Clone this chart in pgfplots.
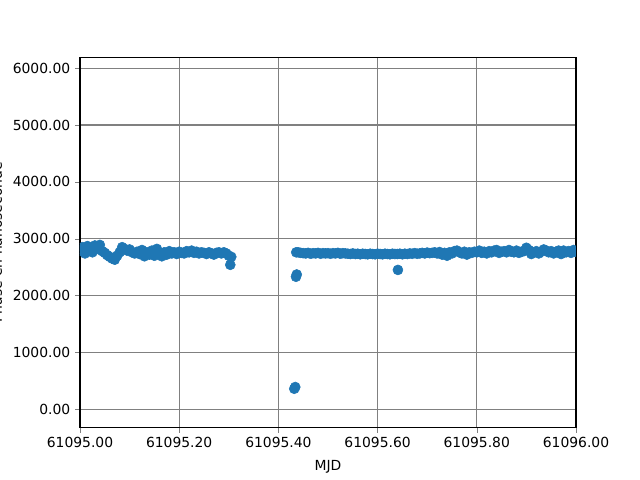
\documentclass[border=0pt]{standalone}
\usepackage{pgfplots}
\pgfplotsset{compat=1.18}
\usepackage{fontspec}
\setmainfont{DejaVu Sans}
\definecolor{mplblue}{HTML}{1F77B4}
\begin{document}
\begin{tikzpicture}
\path[use as bounding box] (0,0) rectangle (460.8pt,345.6pt);
\begin{axis}[
  at={(57.6pt,37.7pt)}, anchor=south west,
  scale only axis, width=357.1pt, height=266.8pt,
  xmin=0, xmax=1, ymin=-324, ymax=6194,
  xtick={0,0.2,0.4,0.6,0.8,1.0},
  xticklabels={61095.00,61095.20,61095.40,61095.60,61095.80,61096.00},
  ytick={0,1000,2000,3000,4000,5000,6000},
  yticklabel style={/pgf/number format/.cd, fixed, fixed zerofill, precision=2, 1000 sep={}},
  /pgf/number format/assume math mode=true,
  tick align=outside, tick pos=left,
  major tick length=3.5pt,
  grid=major, major grid style={gray, line width=0.8pt},
  every tick label/.append style={font=\fontsize{10}{12}\selectfont},
  label style={font=\fontsize{10}{12}\selectfont},
  xlabel={MJD}, ylabel={Phase en nanoseconde},
  ylabel style={at={(axis description cs:-0.147,0.5)}, anchor=south},
  xlabel style={at={(axis description cs:0.5,-0.075)}},
  axis line style={line width=0.8pt},
  clip marker paths=true,
]
\addplot[only marks, mark=*, mark size=3.6pt, color=mplblue, mark options={draw=mplblue, fill=mplblue}] table {
x y
0.000 2790
0.005 2850
0.010 2740
0.015 2870
0.020 2800
0.025 2760
0.030 2880
0.035 2820
0.040 2890
0.045 2780
0.050 2750
0.055 2710
0.060 2680
0.065 2650
0.070 2630
0.075 2700
0.080 2760
0.085 2850
0.090 2820
0.095 2790
0.100 2810
0.105 2760
0.110 2740
0.115 2770
0.120 2730
0.125 2800
0.130 2690
0.135 2760
0.140 2720
0.145 2790
0.150 2700
0.155 2820
0.160 2740
0.165 2690
0.170 2760
0.175 2720
0.180 2780
0.185 2740
0.190 2760
0.195 2730
0.200 2770
0.205 2750
0.210 2740
0.215 2780
0.220 2760
0.225 2790
0.230 2750
0.235 2770
0.240 2740
0.245 2760
0.250 2750
0.255 2730
0.260 2760
0.265 2740
0.270 2720
0.275 2750
0.280 2760
0.285 2740
0.290 2760
0.295 2740
0.300 2700
0.303 2540
0.305 2680
0.432 360
0.434 390
0.4355 2330
0.437 2370
0.436 2760
0.440 2760
0.445 2750
0.450 2745
0.455 2740
0.460 2750
0.465 2735
0.470 2745
0.475 2740
0.480 2750
0.485 2735
0.490 2745
0.495 2740
0.500 2745
0.505 2735
0.510 2745
0.515 2740
0.520 2750
0.525 2735
0.530 2745
0.535 2740
0.540 2735
0.545 2730
0.550 2740
0.555 2730
0.560 2735
0.565 2725
0.570 2735
0.575 2730
0.580 2725
0.585 2735
0.590 2730
0.595 2725
0.600 2735
0.605 2730
0.610 2725
0.615 2735
0.620 2730
0.625 2725
0.630 2735
0.635 2730
0.641 2450
0.640 2730
0.645 2735
0.650 2725
0.655 2735
0.660 2730
0.665 2740
0.670 2735
0.675 2745
0.680 2735
0.685 2740
0.690 2750
0.695 2740
0.700 2755
0.705 2745
0.710 2750
0.715 2760
0.720 2740
0.725 2765
0.730 2720
0.735 2750
0.740 2700
0.745 2760
0.750 2740
0.755 2780
0.760 2790
0.765 2760
0.770 2740
0.775 2770
0.780 2720
0.785 2760
0.790 2750
0.795 2770
0.800 2760
0.805 2790
0.810 2750
0.815 2770
0.820 2740
0.825 2780
0.830 2760
0.835 2790
0.840 2800
0.845 2750
0.850 2770
0.855 2780
0.860 2760
0.865 2800
0.870 2770
0.875 2760
0.880 2790
0.885 2750
0.890 2770
0.895 2780
0.900 2840
0.905 2800
0.910 2730
0.915 2760
0.920 2780
0.925 2740
0.930 2770
0.935 2810
0.940 2790
0.945 2760
0.950 2780
0.955 2740
0.960 2770
0.965 2790
0.970 2730
0.975 2790
0.980 2760
0.985 2780
0.990 2750
0.995 2800
1.000 2770
};
\end{axis}
\end{tikzpicture}
\end{document}
